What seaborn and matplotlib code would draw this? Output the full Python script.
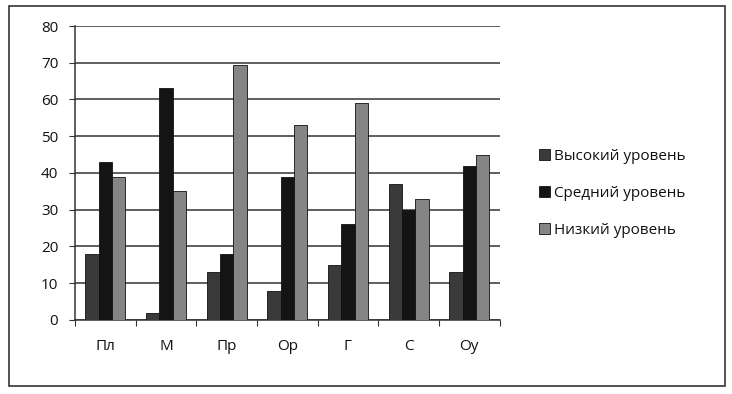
import seaborn as sns
import matplotlib.pyplot as plt
import pandas as pd
from matplotlib.patches import Rectangle

categories = ['Пл', 'М', 'Пр', 'Ор', 'Г', 'С', 'Оу']
series = ['Высокий уровень', 'Средний уровень', 'Низкий уровень']
high = [18, 2, 13, 8, 15, 37, 13]
mid = [43, 63, 18, 39, 26, 30, 42]
low = [39, 35, 69.5, 53, 59, 33, 45]

rows = []
for name, vals in zip(series, [high, mid, low]):
    for c, v in zip(categories, vals):
        rows.append({'cat': c, 'level': name, 'value': v})
df = pd.DataFrame(rows)

sns.set_style('white')
plt.rcParams['font.family'] = ['Open Sans', 'DejaVu Sans']
plt.rcParams['text.color'] = '#111111'

fig = plt.figure(figsize=(7.32, 3.94), dpi=100)
ax = fig.add_axes([0.1025, 0.188, 0.580, 0.746])

palette = ['#3a3a3a', '#141414', '#858585']
sns.barplot(data=df, x='cat', y='value', hue='level', order=categories,
            hue_order=series, palette=palette, width=0.66, gap=0,
            saturation=1, ax=ax, zorder=3, edgecolor='#111111', linewidth=0.6)

ax.set_ylim(0, 80)
ax.set_yticks(range(0, 81, 10))
ax.set_xlim(-0.5, 6.5)
ax.yaxis.grid(True, color='#333333', linewidth=1.1, zorder=0)
ax.set_axisbelow(True)
ax.set_xlabel('')
ax.set_ylabel('')

ax.set_xticks([i + 0.5 for i in range(-1, 7)])
ax.set_xticklabels([])
ax.set_xticks(range(7), minor=True)
ax.set_xticklabels(categories, minor=True, fontsize=11, color='#111111')
ax.tick_params(axis='x', which='major', length=4, direction='out', color='#333333', bottom=True)
ax.tick_params(axis='x', which='minor', length=0, pad=14)
ax.tick_params(axis='y', length=4, direction='out', color='#333333', left=True,
               labelsize=11, labelcolor='#111111', pad=8)

for side in ['top', 'right']:
    ax.spines[side].set_visible(False)
for side in ['left', 'bottom']:
    ax.spines[side].set_color('#333333')
    ax.spines[side].set_linewidth(1.1)

ax.legend(loc='center left', bbox_to_anchor=(1.06, 0.43), frameon=False,
          fontsize=11, handlelength=0.7, handleheight=0.7, handletextpad=0.3,
          labelspacing=1.45)

fig.patches.append(Rectangle((0.012, 0.02), 0.978, 0.965, transform=fig.transFigure,
                             fill=False, edgecolor='#333333', linewidth=1.2))

fig.savefig('out.png', dpi=100)
